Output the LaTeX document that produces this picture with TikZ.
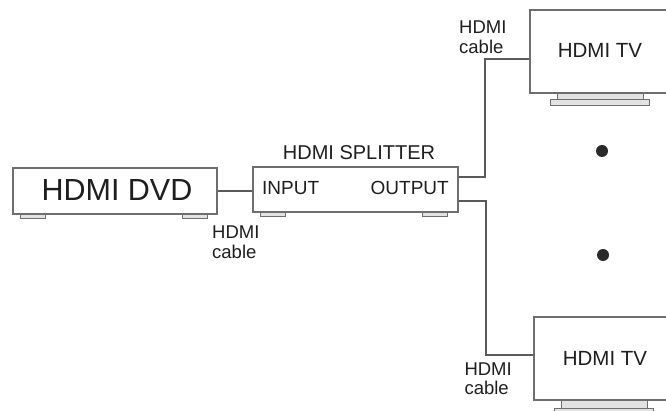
\documentclass[tikz,border=0pt]{standalone}
\usepackage{fontspec}
\setmainfont{Liberation Sans}
\begin{document}
\begin{tikzpicture}[x=1pt,y=-1pt,
  box/.style={draw=boxgray,line width=1.3pt,fill=white,inner sep=0pt},
  foot/.style={draw=boxgray,line width=1pt,fill=footgray},
  wire/.style={draw=wiregray,line width=1.4pt},
  lbl/.style={text=txt,font=\fontsize{19}{19}\selectfont,inner sep=0pt},
  cablelbl/.style={text=txt,font=\fontsize{18.5}{19.5}\selectfont,align=left,inner sep=0pt,anchor=north west},
  dot/.style={circle,fill=dotc,minimum size=12pt,inner sep=0pt}]
\definecolor{boxgray}{HTML}{6E6E6E}
\definecolor{footgray}{HTML}{E2E2E2}
\definecolor{wiregray}{HTML}{5A5A5A}
\definecolor{txt}{HTML}{1E1E1E}
\definecolor{dotc}{HTML}{2A2A2A}
\useasboundingbox (0,0) rectangle (666,411);
\clip (0,0) rectangle (666,411);
% DVD
\draw[foot] (20,214) rectangle (45,219);
\draw[foot] (182,214) rectangle (207,219);
\node[box,minimum width=204pt,minimum height=46pt] (dvd) at (115,191) {};
\node[text=txt,inner sep=0pt,anchor=base,font=\fontsize{30.5}{30.5}\selectfont] (dvdlbl) at (117,201) {HDMI DVD};
% splitter
\draw[foot] (260,212) rectangle (285,217);
\draw[foot] (422,212) rectangle (447,217);
\node[box,minimum width=205pt,minimum height=45pt] (split) at (355.5,189.5) {};
\node[lbl,anchor=base west] (inlbl) at (262,195) {INPUT};
\node[lbl,anchor=base east] (outlbl) at (449,195) {OUTPUT};
\node[lbl,anchor=base,font=\fontsize{20}{20}\selectfont] (splitlbl) at (359,159.3) {HDMI SPLITTER};
% TV 1
\draw[foot] (557,93) rectangle (643,100);
\draw[foot] (550,100) rectangle (649,106);
\node[box,minimum width=150pt,minimum height=83pt] (tv1) at (605,51.5) {};
\node[lbl,anchor=base,font=\fontsize{20.5}{20.5}\selectfont] (tv1lbl) at (600,57.3) {HDMI TV};
% TV 2
\draw[foot] (561,400) rectangle (647,408);
\draw[foot] (554,408) rectangle (653,416);
\node[box,minimum width=150pt,minimum height=83pt] (tv2) at (609,358.5) {};
\node[lbl,anchor=base,font=\fontsize{20.5}{20.5}\selectfont] (tv2lbl) at (605,365) {HDMI TV};
% dots
\node[dot] (d1) at (602,151) {};
\node[dot] (d2) at (603,255) {};
% cables
\draw[wire] (dvd.east) -- (dvd.east -| split.west);
\coordinate (c1) at (485,59);
\coordinate (c2) at (486,355);
\draw[wire] ([yshift=12.5pt]split.east) -| (c1) -- (c1 -| tv1.west);
\draw[wire] ([yshift=-11.5pt]split.east) -| (c2) -- (c2 -| tv2.west);
% cable labels
\node[cablelbl] (cab0) at (212,226) {HDMI\\cable};
\node[cablelbl] (cab1) at (459,21) {HDMI\\cable};
\node[cablelbl] (cab2) at (464.3,362.5) {HDMI\\cable};
\end{tikzpicture}
\end{document}
